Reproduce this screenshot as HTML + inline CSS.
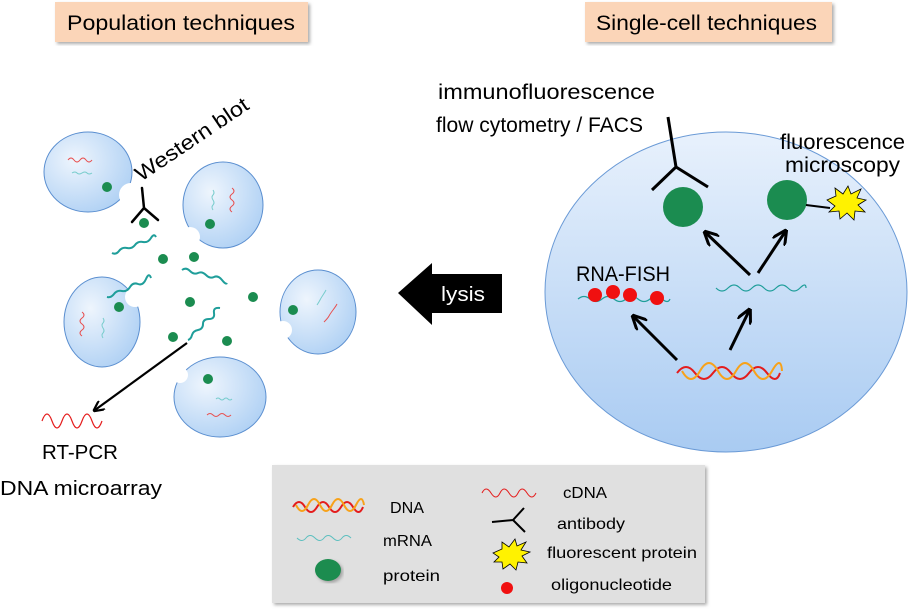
<!DOCTYPE html>
<html><head><meta charset="utf-8"><style>
html,body{margin:0;padding:0;background:#fff}
svg{display:block}
text{font-family:"Liberation Sans",sans-serif;fill:#000}
</style></head><body>
<svg width="911" height="609" viewBox="0 0 911 609" xmlns="http://www.w3.org/2000/svg">
<defs>
<radialGradient id="cg" cx="0.35" cy="0.35" r="0.8">
<stop offset="0" stop-color="#eef5fd"/><stop offset="1" stop-color="#a9cdf3"/></radialGradient>
<linearGradient id="bg" x1="0" y1="0" x2="0" y2="1">
<stop offset="0" stop-color="#e8f1fc"/><stop offset="1" stop-color="#a9cbf2"/></linearGradient>
<filter id="sh"><feDropShadow dx="2" dy="2" stdDeviation="1.5" flood-color="#888" flood-opacity="0.7"/></filter>
<marker id="ah" viewBox="0 0 10 10" refX="8" refY="5" markerWidth="5" markerHeight="5" orient="auto"><path d="M0,0 L10,5 L0,10" fill="none" stroke="#000" stroke-width="2"/></marker>
</defs>

<rect x="55" y="2" width="253" height="40" fill="#fbd5b8" filter="url(#sh)"/>
<text x="67" y="30" font-size="21" textLength="228" lengthAdjust="spacingAndGlyphs">Population techniques</text>
<rect x="585" y="2" width="247" height="40" fill="#fbd5b8" filter="url(#sh)"/>
<text x="596" y="30" font-size="21" textLength="221" lengthAdjust="spacingAndGlyphs">Single-cell techniques</text>

<g stroke="#5b8fd0" stroke-width="1" fill="url(#cg)">
<ellipse cx="88" cy="172" rx="44" ry="40"/>
<ellipse cx="223" cy="205" rx="40" ry="43"/>
<ellipse cx="102" cy="322" rx="38" ry="45"/>
<ellipse cx="318" cy="312" rx="38" ry="42"/>
<ellipse cx="220" cy="397" rx="46" ry="40"/>
</g>
<g fill="#fff">
<circle cx="131" cy="195" r="12"/><circle cx="190" cy="237" r="10"/>
<circle cx="135" cy="297" r="10"/><circle cx="283" cy="330" r="9"/><circle cx="180" cy="375" r="8"/>
</g>
<g fill="none" stroke-width="1">
<path d="M68,160 q3,-4 6,0 t6,0 t6,0 t6,0" stroke="#e85050"/>
<path d="M72,173 q3,-2 5,0 t5,0 t5,0 t5,0" stroke="#7cc"/>
<path d="M232,188 q4,3 0,6 t0,6 t0,6 t0,6" stroke="#e85050"/>
<path d="M213,190 q2,3 0,5 t0,5 t0,5 t0,5" stroke="#7cc"/>
<path d="M82,312 q4,3 0,6 t0,6 t0,6 t0,6" stroke="#e85050"/>
<path d="M103,318 q2,3 0,5 t0,5 t0,5 t0,5" stroke="#7cc"/>
<path d="M324,322 q4,-4 5,-6 t4,-6 t4,-6" stroke="#e85050"/>
<path d="M317,305 q2,-3 3,-5 t3,-5 t3,-5" stroke="#7cc"/>
<path d="M207,415 q3,-3 6,0 t6,0 t6,0 t6,0" stroke="#e85050"/>
<path d="M216,399 q2,-2 4,0 t4,0 t4,0 t4,0" stroke="#7cc"/>
</g>
<g fill="#1b8c50">
<circle cx="107" cy="187" r="5"/><circle cx="144" cy="223" r="5"/><circle cx="210" cy="224" r="5"/>
<circle cx="163" cy="259" r="5"/><circle cx="194" cy="257" r="5"/><circle cx="119" cy="307" r="5"/>
<circle cx="190" cy="302" r="5"/><circle cx="253" cy="297" r="5"/><circle cx="173" cy="337" r="5"/>
<circle cx="227" cy="341" r="5"/><circle cx="293" cy="310" r="5"/><circle cx="208" cy="379" r="5"/>
</g>
<g fill="none" stroke="#1f9e9a" stroke-width="2">
<path d="M112,253 q4,2 7,-2 t8,-3 t8,-3 t8,-3 t8,-4 t5,-1"/>
<path d="M182,270 q4,-3 8,1 t8,2 t8,2 t8,2 t8,3 t5,3"/>
<path d="M107,297 q4,1 7,-3 t8,-3 t8,-4 t8,-3 t8,-5 t5,-1"/>
<path d="M188,340 q3,-1 4,-5 t6,-5 t5,-6 t6,-5 t5,-6 t6,-5"/>
</g>
<g stroke="#000" stroke-width="2.5" fill="none" stroke-linecap="round">
<path d="M142,188 L144,208 L132,222 M144,208 L158,220"/>
</g>
<text x="0" y="0" font-size="21" textLength="132" lengthAdjust="spacingAndGlyphs" transform="translate(141,182) rotate(-34)">Western blot</text>
<line x1="187" y1="343" x2="95" y2="410" stroke="#000" stroke-width="2.2" marker-end="url(#ah)"/>
<path d="M42,421 q5,-14 10,0 t10,0 t10,0 t10,0 t10,0 t10,0" fill="none" stroke="#e41c1c" stroke-width="1.2"/>
<text x="42" y="459" font-size="20" textLength="76" lengthAdjust="spacingAndGlyphs">RT-PCR</text>
<text x="0" y="495" font-size="20" textLength="162" lengthAdjust="spacingAndGlyphs">DNA microarray</text>

<path d="M398,293 L432,263 L432,274 L502,274 L502,313 L432,313 L432,325 Z" fill="#000"/>
<text x="441" y="301" font-size="20" textLength="44" lengthAdjust="spacingAndGlyphs" style="fill:#fff">lysis</text>

<ellipse cx="726" cy="292" rx="181" ry="160" fill="url(#bg)" stroke="#6a9ad6" stroke-width="1"/>
<text x="438" y="99" font-size="21" textLength="217" lengthAdjust="spacingAndGlyphs">immunofluorescence</text>
<text x="436" y="132" font-size="21" textLength="207" lengthAdjust="spacingAndGlyphs">flow cytometry / FACS</text>
<text x="780" y="149" font-size="21" textLength="125" lengthAdjust="spacingAndGlyphs">fluorescence</text>
<text x="785" y="172" font-size="21" textLength="115" lengthAdjust="spacingAndGlyphs">microscopy</text>
<g stroke="#000" stroke-width="3" fill="none">
<path d="M668,117 L676,167 L652,190 M676,167 L708,187"/>
</g>
<circle cx="683" cy="207" r="20" fill="#1b8c50"/>
<circle cx="787" cy="200" r="20" fill="#1b8c50"/>
<line x1="806" y1="205" x2="830" y2="208" stroke="#000" stroke-width="2"/>
<path d="M827,200 L836,196 L835,188 L843,194 L848,186 L851,194 L861,189 L857,198 L866,200 L858,205 L865,212 L855,211 L854,220 L847,213 L840,219 L839,211 L829,212 L835,206 Z" fill="#fff200" stroke="#000" stroke-width="0.8"/>
<g stroke="#000" stroke-width="3" fill="none" marker-end="url(#ah)">
<line x1="750" y1="275" x2="706" y2="233"/>
<line x1="758" y1="273" x2="785" y2="232"/>
<line x1="677" y1="360" x2="634" y2="317"/>
<line x1="730" y1="350" x2="749" y2="311"/>
</g>
<path d="M716,288 q6,6 12,0 t12,0 t12,0 t12,0 t12,0 t12,0 t12,0 t6,0" fill="none" stroke="#1f9e9a" stroke-width="1.2"/>
<text x="576" y="281" font-size="21" textLength="94" lengthAdjust="spacingAndGlyphs">RNA-FISH</text>
<path d="M578,299 q6,-5 12,0 t12,0 t12,0 t12,0 t12,0 t12,0 t12,0 t8,0" fill="none" stroke="#1f9e9a" stroke-width="1.2"/>
<g fill="#f01010"><circle cx="595" cy="295" r="7"/><circle cx="613" cy="292" r="7"/><circle cx="630" cy="295" r="7"/><circle cx="657" cy="298" r="7"/></g>
<path d="M677,373 q9,-12 18,0 t18,0 t18,0 t18,0 t18,0 t13,0" fill="none" stroke="#e41c1c" stroke-width="2"/>
<path d="M682,371 q9,16 18,0 t18,0 t18,0 t18,0 t18,0 t10,0" fill="none" stroke="#f7a21a" stroke-width="2"/>

<rect x="272" y="465" width="433" height="138" fill="#e0e0e0" filter="url(#sh)"/>
<path d="M293,507 q6,-10 12,0 t12,0 t12,0 t12,0 t12,0 t10,0" fill="none" stroke="#e41c1c" stroke-width="2"/>
<path d="M296,505 q6,12 12,0 t12,0 t12,0 t12,0 t12,0 t8,0" fill="none" stroke="#f7a21a" stroke-width="2"/>
<text x="390" y="513" font-size="16" textLength="34" lengthAdjust="spacingAndGlyphs">DNA</text>
<path d="M297,538 q5,5 9,0 t9,0 t9,0 t9,0 t9,0 t9,0" fill="none" stroke="#5cbfbf" stroke-width="1"/>
<text x="383" y="546" font-size="16" textLength="49" lengthAdjust="spacingAndGlyphs">mRNA</text>
<ellipse cx="328" cy="570" rx="13" ry="11" fill="#1b8c50" filter="url(#sh)"/>
<text x="383" y="581" font-size="16" textLength="57" lengthAdjust="spacingAndGlyphs">protein</text>
<path d="M482,493 q4,-8 9,0 t9,0 t9,0 t9,0 t9,0 t9,0" fill="none" stroke="#e41c1c" stroke-width="1"/>
<text x="563" y="498" font-size="16" textLength="44" lengthAdjust="spacingAndGlyphs">cDNA</text>
<path d="M492,522 L513,520 L524,508 M513,520 L525,532" stroke="#000" stroke-width="2" fill="none"/>
<text x="557" y="529" font-size="16" textLength="68" lengthAdjust="spacingAndGlyphs">antibody</text>
<path d="M493,553 L502,549 L502,542 L509,547 L515,539 L517,546 L526,542 L521,550 L530,552 L522,556 L527,563 L518,562 L516,570 L510,564 L503,569 L502,562 L494,562 L499,557 Z" fill="#fff200" stroke="#000" stroke-width="0.8"/>
<text x="547" y="558" font-size="16" textLength="150" lengthAdjust="spacingAndGlyphs">fluorescent protein</text>
<circle cx="507" cy="588" r="6" fill="#f01010"/>
<text x="551" y="590" font-size="16" textLength="121" lengthAdjust="spacingAndGlyphs">oligonucleotide</text>
</svg>
</body></html>
